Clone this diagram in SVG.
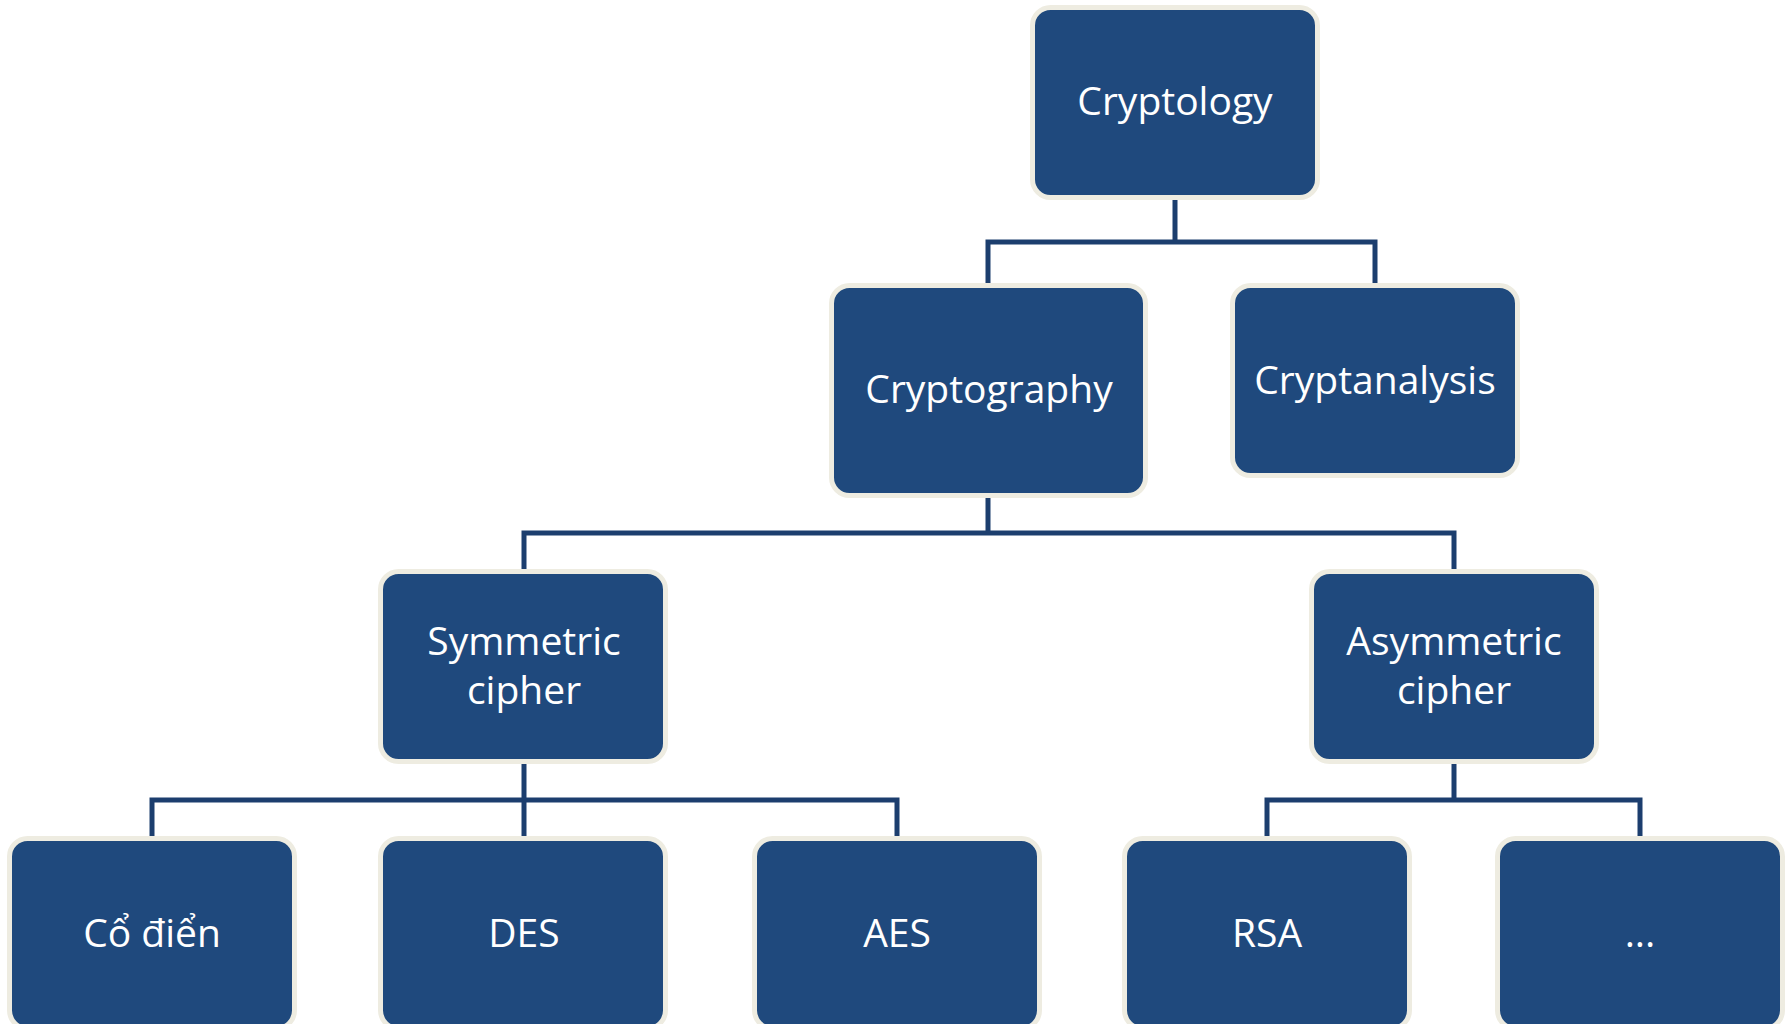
<svg xmlns="http://www.w3.org/2000/svg" width="1787" height="1024" viewBox="0 0 1787 1024">
  <style>
    .box { fill: #1F497D; stroke: #EEECE1; stroke-width: 5; }
    .lbl { fill: #FFFFFF; font-family: "Open Sans", "Noto Sans", "Liberation Sans", sans-serif; font-size: 39px; text-anchor: middle; }
    .link { fill: none; stroke: #1C3E6E; stroke-width: 5; stroke-linecap: butt; stroke-linejoin: miter; }
  </style>
  <rect width="1787" height="1024" fill="#FFFFFF"/>

  <!-- tree connectors -->
  <g id="connectors">
    <path class="link" d="M1175 199 V242 M988 284 V242 H1375 V284"/>
    <path class="link" d="M988 497 V533 M524 570 V533 H1454 V570"/>
    <path class="link" d="M524 763 V800 M152 837 V800 H897 V837 M524 800 V837"/>
    <path class="link" d="M1454 763 V800 M1267 837 V800 H1640 V837"/>
  </g>

  <g id="cryptology">
    <rect class="box" x="1032.5" y="7.5" width="285" height="190" rx="18"/>
    <text class="lbl" x="1175" y="115">Cryptology</text>
  </g>

  <g id="cryptography">
    <rect class="box" x="831.5" y="285.5" width="314" height="210" rx="18"/>
    <text class="lbl" x="989" y="403">Cryptography</text>
  </g>

  <g id="cryptanalysis">
    <rect class="box" x="1232.5" y="285.5" width="285" height="190" rx="18"/>
    <text class="lbl" x="1375" y="394">Cryptanalysis</text>
  </g>

  <g id="symmetric">
    <rect class="box" x="380.5" y="571.5" width="285" height="190" rx="18"/>
    <text class="lbl" x="524" y="655">Symmetric</text>
    <text class="lbl" x="524" y="704">cipher</text>
  </g>

  <g id="asymmetric">
    <rect class="box" x="1311.5" y="571.5" width="285" height="190" rx="18"/>
    <text class="lbl" x="1454" y="655">Asymmetric</text>
    <text class="lbl" x="1454" y="704">cipher</text>
  </g>

  <g id="co-dien">
    <rect class="box" x="9.5" y="838.5" width="285" height="190" rx="18"/>
    <text class="lbl" x="152" y="947">Cổ điển</text>
  </g>

  <g id="des">
    <rect class="box" x="380.5" y="838.5" width="285" height="190" rx="18"/>
    <text class="lbl" x="524" y="947">DES</text>
  </g>

  <g id="aes">
    <rect class="box" x="754.5" y="838.5" width="285" height="190" rx="18"/>
    <text class="lbl" x="897" y="947">AES</text>
  </g>

  <g id="rsa">
    <rect class="box" x="1124.5" y="838.5" width="285" height="190" rx="18"/>
    <text class="lbl" x="1267" y="947">RSA</text>
  </g>

  <g id="more">
    <rect class="box" x="1497.5" y="838.5" width="285" height="190" rx="18"/>
    <text class="lbl" x="1640" y="947">...</text>
  </g>
</svg>
